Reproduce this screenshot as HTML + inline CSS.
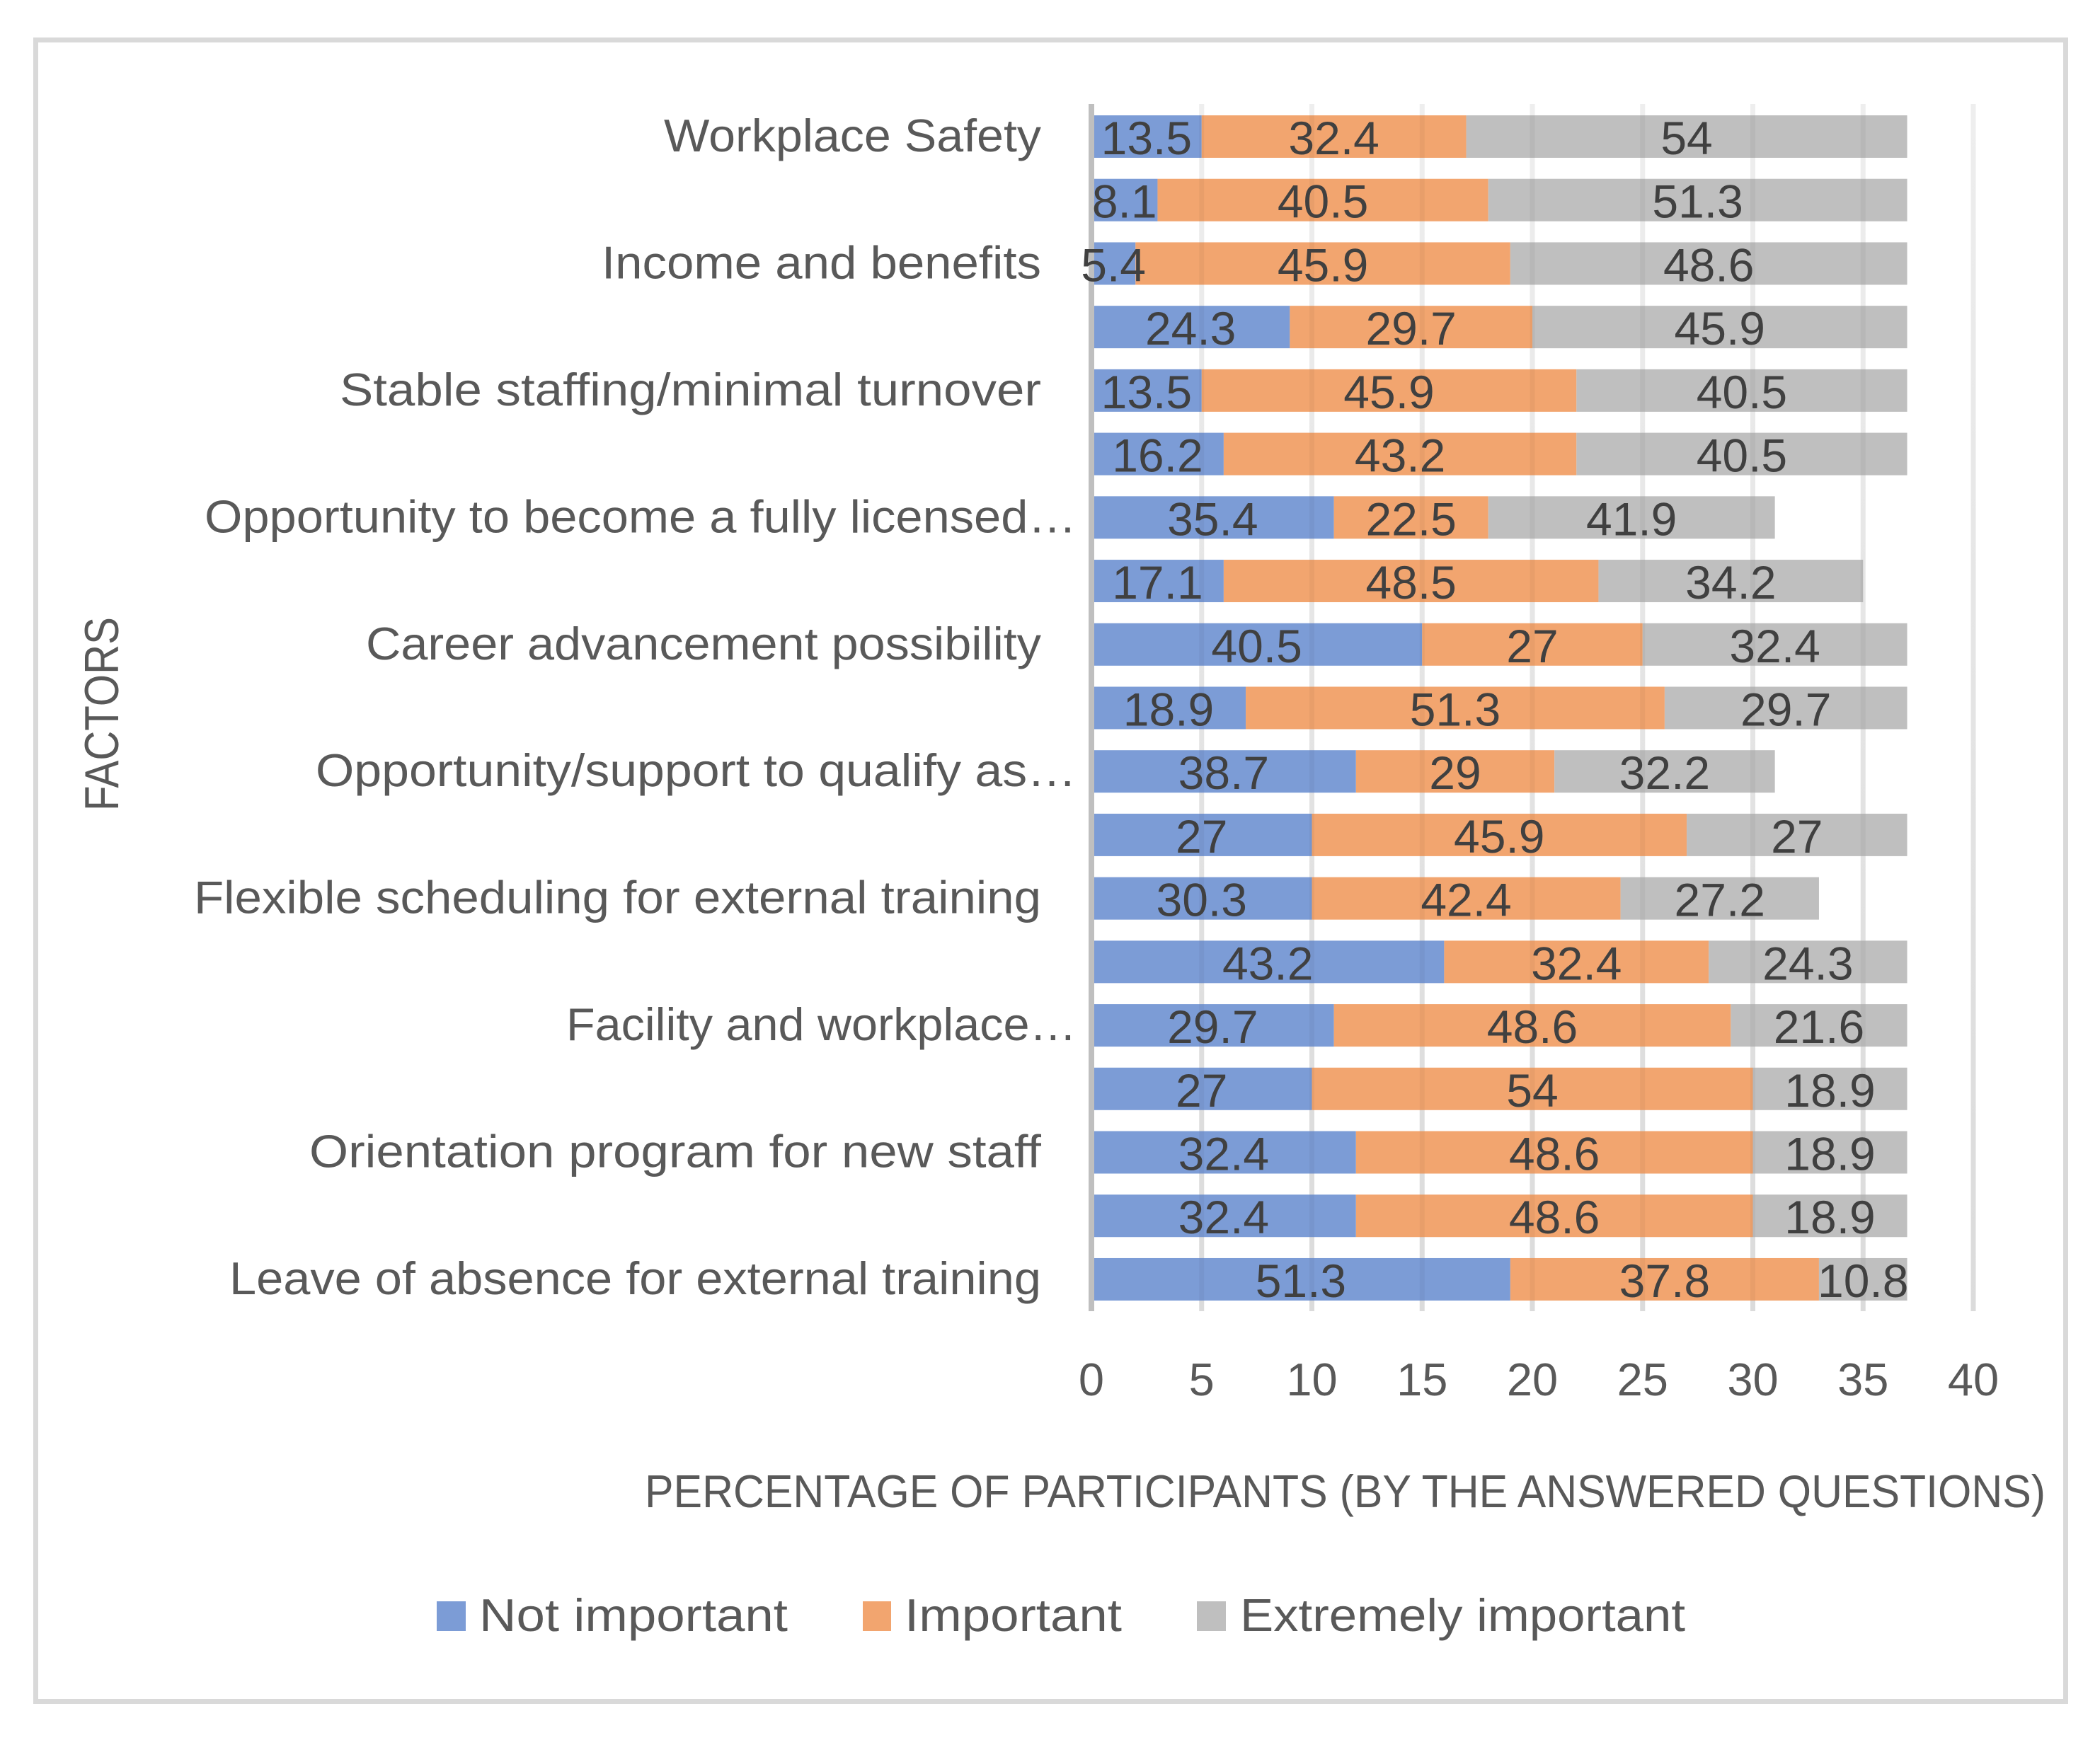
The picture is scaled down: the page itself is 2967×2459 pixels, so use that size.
<!DOCTYPE html>
<html>
<head>
<meta charset="utf-8">
<title>Factors by percentage of participants</title>
<style>
html,body{margin:0;padding:0;background:#fff;}
svg{display:block;}
text{font-family:"Liberation Sans",sans-serif;}
</style>
</head>
<body>
<svg id="chart" xmlns="http://www.w3.org/2000/svg" width="2967" height="2459" viewBox="0 0 2967 2459">
  <defs>
    <linearGradient id="gridFade" gradientUnits="userSpaceOnUse" x1="0" y1="147" x2="0" y2="1853">
      <stop offset="0" stop-color="#f8f8f8"/>
      <stop offset="1" stop-color="#e4e4e4"/>
    </linearGradient>
  </defs>
  <rect x="0" y="0" width="2967" height="2459" fill="#ffffff"/>
  <rect x="50.5" y="56.5" width="2868" height="2348" fill="none" stroke="#d9d9d9" stroke-width="7"/>
  <g id="gridUnder"></g>
  <g id="bars"></g>
  <g id="gridOver"></g>
  <rect id="zeroAxis" fill="#bfbfbf"/>
  <g id="dataLabels" font-size="66" fill="#404040" text-anchor="middle"></g>
  <g id="catLabels" font-size="65" fill="#595959" text-anchor="end">
    <text textLength="533" lengthAdjust="spacingAndGlyphs">Workplace Safety</text>
    <text textLength="621" lengthAdjust="spacingAndGlyphs">Income and benefits</text>
    <text textLength="991" lengthAdjust="spacingAndGlyphs">Stable staffing/minimal turnover</text>
    <text textLength="1232" lengthAdjust="spacingAndGlyphs">Opportunity to become a fully licensed…</text>
    <text textLength="954" lengthAdjust="spacingAndGlyphs">Career advancement possibility</text>
    <text textLength="1075" lengthAdjust="spacingAndGlyphs">Opportunity/support to qualify as…</text>
    <text textLength="1197" lengthAdjust="spacingAndGlyphs">Flexible scheduling for external training</text>
    <text textLength="721" lengthAdjust="spacingAndGlyphs">Facility and workplace…</text>
    <text textLength="1034" lengthAdjust="spacingAndGlyphs">Orientation program for new staff</text>
    <text textLength="1147" lengthAdjust="spacingAndGlyphs">Leave of absence for external training</text>
  </g>
  <g id="tickLabels" font-size="65" fill="#595959" text-anchor="middle"></g>
  <text x="911" y="2130" font-size="65" fill="#595959" textLength="1979" lengthAdjust="spacingAndGlyphs">PERCENTAGE OF PARTICIPANTS (BY THE ANSWERED QUESTIONS)</text>
  <text transform="translate(167,1146) rotate(-90)" font-size="68" fill="#595959" textLength="274" lengthAdjust="spacingAndGlyphs">FACTORS</text>
  <g font-size="65" fill="#595959">
    <rect x="617" y="2263" width="41" height="42" fill="#7c9cd6"/>
    <text x="677" y="2305" textLength="436" lengthAdjust="spacingAndGlyphs">Not important</text>
    <rect x="1219" y="2263" width="40" height="42" fill="#f2a56f"/>
    <text x="1278" y="2305" textLength="307" lengthAdjust="spacingAndGlyphs">Important</text>
    <rect x="1691" y="2263" width="41" height="42" fill="#bfbfbf"/>
    <text x="1752" y="2305" textLength="629" lengthAdjust="spacingAndGlyphs">Extremely important</text>
  </g>
</svg>
<script>
// Chart data (bar lengths are respondent counts; printed labels are percentages)
const categories = ["Workplace Safety","","Income and benefits","","Stable staffing/minimal turnover","","Opportunity to become a fully licensed…","","Career advancement possibility","","Opportunity/support to qualify as…","","Flexible scheduling for external training","","Facility and workplace…","","Orientation program for new staff","","Leave of absence for external training"];
const notImportant = [5,3,2,9,5,6,11,6,15,7,12,10,10,16,11,10,12,12,19];
const important = [12,15,17,11,17,16,7,17,10,19,9,17,14,12,18,20,18,18,14];
const extremelyImportant = [20,19,18,17,15,15,13,12,12,11,10,10,9,9,8,7,7,7,4];
const notImportantLabels = ["13.5","8.1","5.4","24.3","13.5","16.2","35.4","17.1","40.5","18.9","38.7","27","30.3","43.2","29.7","27","32.4","32.4","51.3"];
const importantLabels = ["32.4","40.5","45.9","29.7","45.9","43.2","22.5","48.5","27","51.3","29","45.9","42.4","32.4","48.6","54","48.6","48.6","37.8"];
const extremelyImportantLabels = ["54","51.3","48.6","45.9","40.5","40.5","41.9","34.2","32.4","29.7","32.2","27","27.2","24.3","21.6","18.9","18.9","18.9","10.8"];
const xTicks = [0,5,10,15,20,25,30,35,40];

const NS = "http://www.w3.org/2000/svg";
const PLOT_X0 = 1542, UNIT = 31.15, PLOT_TOP = 147, PLOT_BOTTOM = 1853;
const FIRST_BAR_TOP = 163, BAR_PITCH = 89.72, BAR_H = 60;
function xScale(v){ return PLOT_X0 + v * UNIT; }
function yScale(i){ return FIRST_BAR_TOP + i * BAR_PITCH; }
function make(tag, attrs, parent){
  const el = document.createElementNS(NS, tag);
  for (const k in attrs) el.setAttribute(k, attrs[k]);
  parent.appendChild(el);
  return el;
}

const gridUnder = document.getElementById("gridUnder");
const gridOver = document.getElementById("gridOver");
xTicks.forEach(function(t){
  if (t === 0) return;
  const under = make("rect", {x: xScale(t) - 3.5, y: PLOT_TOP, width: 7, height: PLOT_BOTTOM - PLOT_TOP, fill: "url(#gridFade)"}, gridUnder);
  
  
  const over = make("rect", {x: xScale(t) - 3.5, y: PLOT_TOP, width: 7, height: PLOT_BOTTOM - PLOT_TOP, fill: "#000", "fill-opacity": 0.04}, gridOver);
  
  
});

const zero = document.getElementById("zeroAxis");
zero.setAttribute("x", xScale(0) - 4);
zero.setAttribute("y", PLOT_TOP);
zero.setAttribute("width", 8);
zero.setAttribute("height", PLOT_BOTTOM - PLOT_TOP);

const barsGroup = document.getElementById("bars");
const labelGroup = document.getElementById("dataLabels");
const seriesList = [
  {values: notImportant, labels: notImportantLabels, color: "#7c9cd6"},
  {values: important, labels: importantLabels, color: "#f2a56f"},
  {values: extremelyImportant, labels: extremelyImportantLabels, color: "#bfbfbf"}
];
categories.forEach(function(cat, i){
  let cum = 0;
  seriesList.forEach(function(s){
    const v = s.values[i];
    const x1 = xScale(cum), x2 = xScale(cum + v);
    const bar = make("rect", {x: x1, y: yScale(i), width: x2 - x1, height: BAR_H, fill: s.color}, barsGroup);
    
    
    const lab = make("text", {x: (x1 + x2) / 2, y: yScale(i) + BAR_H / 2 + 25}, labelGroup);
    
    
    lab.textContent = s.labels[i];
    cum += v;
  });
});

// Category labels are inline text above; place each at its bar's row
Array.from(document.querySelectorAll("#catLabels text")).forEach(function(t){
  const i = categories.indexOf(t.textContent);
  t.setAttribute("x", t.textContent.endsWith("…") ? 1521 : 1471);
  t.setAttribute("y", yScale(i) + BAR_H / 2 + 21);
});

const tickGroup = document.getElementById("tickLabels");
xTicks.forEach(function(t){
  const el = make("text", {x: xScale(t), y: 1972}, tickGroup);
  
  
  el.textContent = t;
});
</script>
</body>
</html>
